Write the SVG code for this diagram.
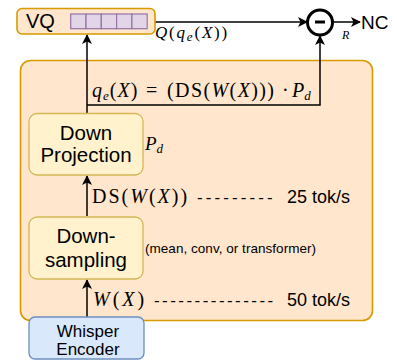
<svg xmlns="http://www.w3.org/2000/svg" width="397" height="361" viewBox="0 0 397 361">
<defs>
<marker id="arr" viewBox="0 0 10 10" refX="9" refY="5" markerWidth="10" markerHeight="10" markerUnits="userSpaceOnUse" orient="auto">
<path d="M0,0 L10,5 L0,10 L2.5,5 Z" fill="#000"/>
</marker>
<style>
.sans{font-family:"Liberation Sans",Arial,Helvetica,sans-serif;fill:#000}
.math{font-family:"Liberation Serif","Times New Roman",serif;fill:#000}
.it{font-style:italic}
.sub{font-style:italic;font-size:13px}
.dash{font-family:"Liberation Sans",Arial,sans-serif;font-size:17px;fill:#000}
.conn{fill:none;stroke:#000;stroke-width:1.5}
.yel{fill:#fff2cc;stroke:#d6b656;stroke-width:1.3}
.org{fill:#ffe6cc;stroke:#d79b00;stroke-width:1.6}
.blu{fill:#dae8fc;stroke:#6c8ebf;stroke-width:1.3}
.cell{fill:#e1d5e7;stroke:#9673a6;stroke-width:1.2}
</style>
</defs>
<rect width="397" height="361" fill="#fff"/>

<g id="container">
<rect class="org" x="20.5" y="60.5" width="352" height="260" rx="10"/>
</g>

<g id="connectors">
<path class="conn" d="M87,113 V35" marker-end="url(#arr)"/>
<path class="conn" d="M87,105 H320 V36" marker-end="url(#arr)"/>
<path class="conn" d="M155,22 H307" marker-end="url(#arr)"/>
<path class="conn" d="M334,22 H360" marker-end="url(#arr)"/>
<path class="conn" d="M87,216 V176" marker-end="url(#arr)"/>
<path class="conn" d="M87,317 V280" marker-end="url(#arr)"/>
</g>

<g id="vq">
<rect class="org" x="17" y="8.5" width="138" height="25.5" rx="5"/>
<text class="sans" x="26" y="28" font-size="20">VQ</text>
<rect class="cell" x="70.7" y="14" width="15.3" height="14.7"/>
<rect class="cell" x="86" y="14" width="15.3" height="14.7"/>
<rect class="cell" x="101.3" y="14" width="15.3" height="14.7"/>
<rect class="cell" x="116.6" y="14" width="15.3" height="14.7"/>
<rect class="cell" x="131.9" y="14" width="15.3" height="14.7"/>
</g>

<g id="minus">
<circle cx="320" cy="22.5" r="12.5" fill="#fff" stroke="#000" stroke-width="3"/>
<line x1="315" y1="22" x2="325" y2="22" stroke="#000" stroke-width="3"/>
</g>

<g id="nc">
<text class="sans" x="361" y="28.5" font-size="19">NC</text>
</g>

<g id="labels">
<text class="math" x="155" y="38" font-size="17" letter-spacing="1.8"><tspan class="it">Q</tspan>(<tspan class="it">q</tspan><tspan class="sub" font-size="12" dy="2.5">e</tspan><tspan dy="-2.5">(</tspan><tspan class="it">X</tspan>))</text>
<text class="math it" x="342" y="38.5" font-size="12">R</text>
<text class="math" x="92" y="97" font-size="20" letter-spacing="1"><tspan class="it">q</tspan><tspan class="sub" dy="3">e</tspan><tspan dy="-3">(</tspan><tspan class="it">X</tspan>)</text>
<text class="math" x="146" y="97" font-size="20">=</text>
<text class="math" x="167" y="97" font-size="20" letter-spacing="1.4">(DS(<tspan class="it">W</tspan>(<tspan class="it">X</tspan>)))</text>
<text class="math" x="282" y="97" font-size="20">·</text>
<text class="math" x="292" y="97" font-size="20"><tspan class="it">P</tspan><tspan class="sub" dy="3">d</tspan></text>
<text class="math" x="145" y="150" font-size="19"><tspan class="it">P</tspan><tspan class="sub" dy="3">d</tspan></text>
<text class="math" x="92" y="203" font-size="20" letter-spacing="2">DS(<tspan class="it">W</tspan>(<tspan class="it">X</tspan>))</text>
<text class="dash" x="197" y="203" letter-spacing="3.1">---------</text>
<text class="sans" x="287" y="203" font-size="18">25 tok/s</text>
<text class="sans" x="145" y="253" font-size="13.5" textLength="171" lengthAdjust="spacing">(mean, conv, or transformer)</text>
<text class="math" x="93" y="306" font-size="20" letter-spacing="3"><tspan class="it">W</tspan>(<tspan class="it">X</tspan>)</text>
<text class="dash" x="154" y="306" letter-spacing="2.45">---------------</text>
<text class="sans" x="287" y="306" font-size="18">50 tok/s</text>
</g>

<g id="down-projection">
<rect class="yel" x="29" y="113.5" width="114" height="61.5" rx="8"/>
<text class="sans" x="86" y="140" font-size="20.5" text-anchor="middle">Down</text>
<text class="sans" x="86" y="162" font-size="20.5" text-anchor="middle">Projection</text>
</g>

<g id="down-sampling">
<rect class="yel" x="29" y="217" width="114" height="62" rx="8"/>
<text class="sans" x="86" y="243" font-size="20.5" text-anchor="middle">Down-</text>
<text class="sans" x="86" y="267" font-size="20.5" text-anchor="middle">sampling</text>
</g>

<g id="whisper-encoder">
<rect class="blu" x="29" y="317" width="115" height="42" rx="6"/>
<text class="sans" x="88" y="336.5" font-size="17" text-anchor="middle">Whisper</text>
<text class="sans" x="88" y="355" font-size="17" text-anchor="middle">Encoder</text>
</g>
</svg>
